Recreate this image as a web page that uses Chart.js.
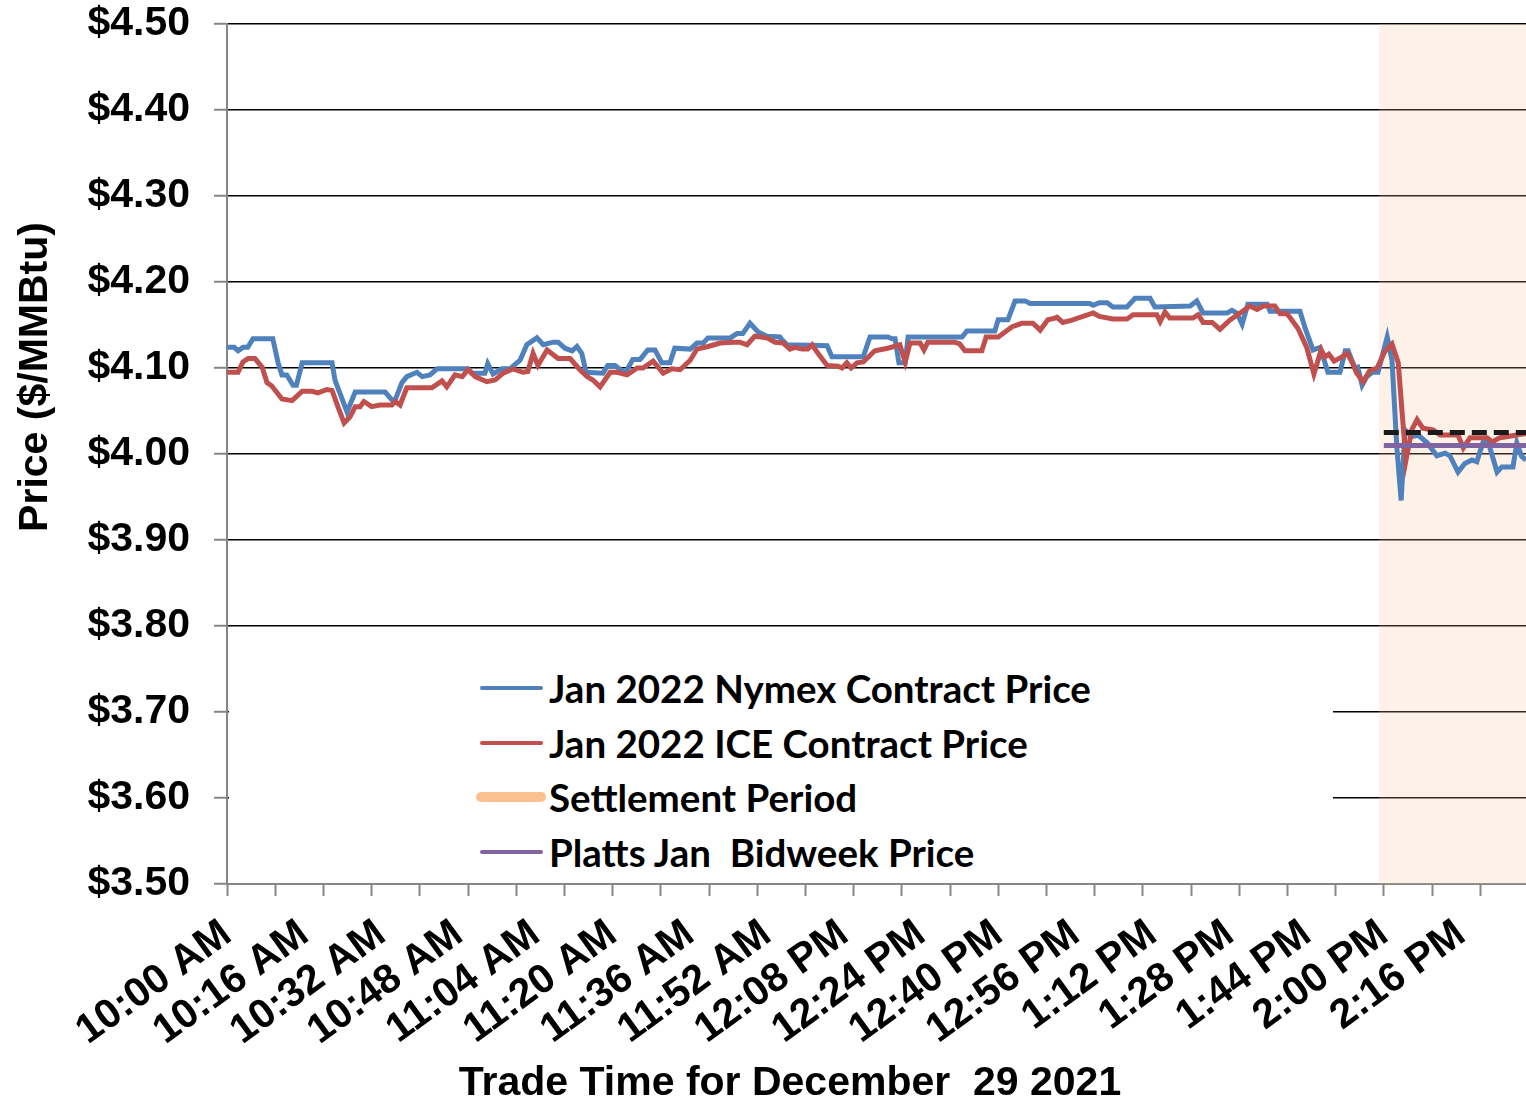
<!DOCTYPE html>
<html>
<head>
<meta charset="utf-8">
<script src="https://cdn.jsdelivr.net/npm/chart.js@4.4.1/dist/chart.umd.min.js"></script>
<style>
  html, body { margin: 0; padding: 0; background: #fff; }
  #wrap { position: relative; width: 1526px; height: 1105px; }
  #legend {
    position: absolute; left: 229px; top: 652px; width: 1104px; height: 229px;
    background: #fff;
  }
  .row {
    position: absolute; left: 0; height: 54px;
    display: flex; align-items: center;
    font-family: "Lato", "Open Sans", sans-serif; font-weight: bold; font-size: 38.5px;
    color: #000; white-space: pre;
  }
  .swatch { display: inline-block; width: 63px; height: 4px; border-radius: 2px; margin-left: 251px; margin-right: 6px; }
  .swatch.thick { width: 70px; height: 10px; border-radius: 5px; margin-left: 247px; margin-right: 3px; }
</style>
</head>
<body>
<div id="wrap">
  <canvas id="chart" width="1526" height="1105"></canvas>
  <div id="legend"></div>
</div>
<script>
// minutes after 10:00 AM, Dec 29 2021
const nymexTimes = [0, 1.5, 2.3, 3.3, 4.3, 5.4, 9.5, 10.6, 11.4, 12.4, 13.7, 14.4, 15.6, 21.8, 22.4, 24.9, 26.6, 32.8, 34.2, 34.9,
  36.3, 37.3, 39.4, 40.5, 42.1, 43.6, 50, 50.8, 53.5, 54.1, 55.2, 57, 58.7, 60.8, 62.2, 64.3, 65.6, 67.7, 68.7, 70.1,
  71.6, 72.6, 73.6, 74.5, 78, 79, 80.5, 82.6, 84.2, 85.7, 87.3, 88.8, 90.2, 91.9, 92.9, 96.1, 97.5, 98.8, 99.8, 104.4,
  105.8, 107, 108.5, 110.2, 112, 114.7, 115.1, 116.2, 124.5, 125.5, 132, 133.4, 137.1, 138, 138.6, 139.4, 140.7, 141.3, 152.5, 153.5,
  159.3, 160, 162, 163.5, 165.6, 166.6, 179, 179.7, 181, 182.6, 183.8, 186.7, 188.4, 191.5, 192.5, 199.8, 201.2, 202.5, 207.5, 208.5,
  209.5, 210.6, 211.8, 215.8, 216.4, 222.6, 223.7, 225.3, 226.8, 228.4, 230.9, 232, 232.6, 234, 234.6, 235.5, 236.5, 237.6, 238.8, 240.7,
  241.7, 242.7, 243.6, 244.4, 245.8, 247.1, 249, 251, 252.7, 253.7, 255.4, 256.8, 258.3, 259.3, 260.6, 261.6, 263.5, 264.5, 266.8, 267.6,
  268.6, 269.5];
const nymexPrices = [4.124, 4.124, 4.120, 4.124, 4.124, 4.134, 4.134, 4.106, 4.092, 4.092, 4.080, 4.080, 4.106, 4.106, 4.086, 4.049, 4.072, 4.072, 4.063, 4.063,
  4.083, 4.090, 4.095, 4.090, 4.092, 4.099, 4.099, 4.094, 4.094, 4.105, 4.093, 4.099, 4.099, 4.109, 4.127, 4.135, 4.127, 4.130, 4.130, 4.123,
  4.120, 4.125, 4.117, 4.095, 4.094, 4.103, 4.103, 4.094, 4.110, 4.110, 4.121, 4.121, 4.106, 4.106, 4.123, 4.122, 4.129, 4.129, 4.135, 4.135,
  4.140, 4.140, 4.152, 4.142, 4.137, 4.136, 4.133, 4.127, 4.126, 4.113, 4.113, 4.136, 4.136, 4.134, 4.134, 4.106, 4.106, 4.136, 4.136, 4.143,
  4.143, 4.156, 4.156, 4.178, 4.178, 4.175, 4.175, 4.173, 4.176, 4.176, 4.171, 4.171, 4.181, 4.181, 4.171, 4.172, 4.178, 4.164, 4.164, 4.167,
  4.164, 4.151, 4.174, 4.174, 4.166, 4.166, 4.146, 4.121, 4.124, 4.095, 4.095, 4.120, 4.120, 4.100, 4.101, 4.080, 4.090, 4.095, 4.095, 4.136,
  4.109, 4.008, 3.946, 4.028, 4.020, 4.022, 4.013, 3.998, 4.001, 3.998, 3.979, 3.989, 3.993, 3.991, 4.014, 4.015, 3.979, 3.985, 3.985, 4.013,
  3.997, 3.993];

const iceTimes = [0, 2.3, 3.3, 4.4, 5.8, 7.3, 8.3, 9.3, 11.4, 13.5, 15.6, 17.6, 18.9, 20.7, 21.8, 23, 24.3, 25.5, 26.6, 27.6,
  28.4, 30, 31.7, 34.2, 34.9, 35.9, 37.3, 42.5, 44.6, 45.6, 47.3, 48.8, 50, 51.5, 53.9, 55.6, 57.3, 59.3, 61.4, 62.4,
  63.5, 64.5, 66.4, 68.7, 71.2, 73.2, 74.7, 75.9, 77.4, 79.5, 80.9, 83, 85.1, 86.3, 88.4, 90.5, 92.3, 94, 96.1, 97.5,
  99.8, 102.3, 105, 106.4, 107.9, 109.5, 112, 113.7, 115.4, 116.8, 117.8, 119.3, 120.5, 121.4, 122.6, 124.5, 126.8, 127.6, 128.6, 129.5,
  130.7, 132, 134.4, 137.1, 139.6, 140.7, 141.7, 143.8, 144.6, 145.4, 151, 152, 153.1, 156.6, 157.5, 160, 162.9, 164.9, 167.2, 168.7,
  170.3, 171.8, 172.2, 173.4, 175.5, 177, 179.7, 181, 183.8, 186.7, 188, 192.9, 193.6, 194.6, 195.6, 200.4, 201.5, 202.5, 204.4, 206,
  208.1, 210.2, 212.2, 213.7, 215, 217.4, 218.5, 219.9, 220.5, 222.2, 224, 225.5, 227, 227.8, 228.6, 229.7, 231.3, 232.4, 233.4, 234.4,
  235.7, 237.1, 238.6, 240.2, 241.7, 243, 243.8, 244.6, 245.8, 246.9, 248.1, 250.2, 251.7, 255.4, 256.5, 257.9, 261.4, 262.5, 264.1, 267.6,
  269.5];
const icePrices = [4.095, 4.095, 4.107, 4.111, 4.111, 4.101, 4.083, 4.079, 4.064, 4.062, 4.073, 4.073, 4.071, 4.075, 4.074, 4.055, 4.036, 4.043, 4.055, 4.055,
  4.061, 4.055, 4.057, 4.057, 4.061, 4.057, 4.077, 4.077, 4.085, 4.078, 4.092, 4.090, 4.098, 4.090, 4.084, 4.086, 4.094, 4.099, 4.095, 4.096,
  4.117, 4.103, 4.121, 4.111, 4.111, 4.098, 4.090, 4.086, 4.078, 4.095, 4.095, 4.092, 4.100, 4.100, 4.108, 4.094, 4.099, 4.098, 4.109, 4.122,
  4.125, 4.129, 4.130, 4.130, 4.127, 4.137, 4.135, 4.130, 4.129, 4.122, 4.124, 4.122, 4.122, 4.127, 4.117, 4.103, 4.102, 4.100, 4.106, 4.100,
  4.106, 4.107, 4.120, 4.123, 4.127, 4.107, 4.129, 4.129, 4.121, 4.130, 4.130, 4.128, 4.120, 4.120, 4.136, 4.136, 4.148, 4.152, 4.152, 4.144,
  4.156, 4.158, 4.159, 4.153, 4.156, 4.159, 4.164, 4.160, 4.157, 4.157, 4.162, 4.162, 4.154, 4.165, 4.158, 4.158, 4.162, 4.153, 4.153, 4.145,
  4.156, 4.164, 4.172, 4.168, 4.172, 4.172, 4.163, 4.163, 4.159, 4.146, 4.124, 4.093, 4.121, 4.113, 4.116, 4.108, 4.113, 4.117, 4.107, 4.094,
  4.084, 4.097, 4.100, 4.119, 4.128, 4.106, 4.048, 3.993, 4.028, 4.040, 4.030, 4.028, 4.022, 4.022, 4.007, 4.019, 4.019, 4.014, 4.019, 4.022,
  4.024];

const settlementWindow = [239, 269.5];
const settlementRefTimes = [240, 269.5];
const settlementRefPrice = 4.025;
const plattsTimes = [240, 269.5];
const plattsPrice = 4.01;

const timeLabels = ["10:00 AM", "10:16 AM", "10:32 AM", "10:48 AM", "11:04 AM", "11:20 AM", "11:36 AM", "11:52 AM",
  "12:08 PM", "12:24 PM", "12:40 PM", "12:56 PM", "1:12 PM", "1:28 PM", "1:44 PM", "2:00 PM", "2:16 PM"];
const labelStep = 16;   // minutes between labels
const tickStep = 10;    // minutes between tick marks
const xMax = 269.5;

const xTitle = "Trade Time for December  29 2021";
const yTitle = "Price ($/MMBtu)";

const legendItems = [
  { text: "Jan 2022 Nymex Contract Price", color: "#4F81BD" },
  { text: "Jan 2022 ICE Contract Price", color: "#C0504D" },
  { text: "Settlement Period", color: "#FAC090", thick: true },
  { text: "Platts Jan  Bidweek Price", color: "#8064A2" },
];

const fontFamily = "'Liberation Sans', Arial, sans-serif";
const axisFont = { family: fontFamily, size: 41, weight: "bold" };
const gray = "#868686";

const pairs = (xs, ys) => xs.map((x, i) => ({ x, y: ys[i] }));

// axis titles sit off-centre in the original, so place them by hand
const titlesPlugin = {
  id: "titles",
  afterDraw(chart) {
    const { ctx } = chart;
    ctx.save();
    ctx.font = "bold 41px " + fontFamily;
    ctx.fillStyle = "#000";
    ctx.textAlign = "center";
    ctx.textBaseline = "middle";
    ctx.fillText(xTitle, 790, 1084);
    ctx.translate(36, 377);
    ctx.rotate(-Math.PI / 2);
    ctx.fillText(yTitle, 0, 0);
    ctx.restore();
  },
};

new Chart(document.getElementById("chart"), {
  type: "line",
  data: {
    datasets: [
      {
        label: "Settlement Period",
        data: settlementWindow.map((x) => ({ x, y: 4.5 })),
        borderWidth: 0,
        borderColor: "rgba(0,0,0,0)",
        backgroundColor: "rgba(250,192,144,0.22)",
        fill: "start",
        pointRadius: 0,
        order: 5,
      },
      {
        label: "Jan 2022 Nymex Contract Price",
        data: pairs(nymexTimes, nymexPrices),
        borderColor: "#4F81BD",
        borderWidth: 5,
        pointRadius: 0,
        tension: 0,
        order: 3,
      },
      {
        label: "Jan 2022 ICE Contract Price",
        data: pairs(iceTimes, icePrices),
        borderColor: "#C0504D",
        borderWidth: 5,
        pointRadius: 0,
        tension: 0,
        order: 2,
      },
      {
        label: "Settlement",
        data: settlementRefTimes.map((x) => ({ x, y: settlementRefPrice })),
        borderColor: "#1a1a1a",
        borderWidth: 5,
        borderDash: [15, 7],
        pointRadius: 0,
        order: 1,
      },
      {
        label: "Platts Jan  Bidweek Price",
        data: plattsTimes.map((x) => ({ x, y: plattsPrice })),
        borderColor: "#8064A2",
        borderWidth: 5,
        pointRadius: 0,
        order: 0,
      },
    ],
  },
  options: {
    responsive: false,
    animation: false,
    devicePixelRatio: 1,
    layout: { padding: 0 },
    plugins: { legend: { display: false }, tooltip: { enabled: false } },
    scales: {
      x: {
        type: "linear",
        min: 0,
        max: xMax,
        afterBuildTicks(scale) {
          const vals = new Set();
          for (let v = 0; v <= xMax; v += tickStep) vals.add(v);
          timeLabels.forEach((_, i) => vals.add(i * labelStep));
          scale.ticks = [...vals].sort((a, b) => a - b).map((value) => ({ value }));
        },
        afterFit(scale) { scale.height = 221; },
        ticks: {
          autoSkip: false,
          minRotation: 36,
          maxRotation: 36,
          padding: 14,
          color: "#000",
          font: axisFont,
          callback: (v) => (v % labelStep === 0 ? timeLabels[v / labelStep] || "" : ""),
        },
        grid: {
          drawOnChartArea: false,
          drawTicks: true,
          tickLength: 12,
          tickWidth: 2,
          tickColor: (c) => (c.tick && c.tick.value % tickStep === 0 ? gray : "rgba(0,0,0,0)"),
        },
        border: { color: gray, width: 2 },
      },
      y: {
        min: 3.5,
        max: 4.5,
        afterFit(scale) {
          scale.width = 227;
          scale.paddingTop = 24;
          scale.paddingBottom = 0;
        },
        ticks: {
          stepSize: 0.1,
          padding: 24,
          color: "#000",
          font: axisFont,
          callback: (v) => "$" + Number(v).toFixed(2),
        },
        grid: {
          color: (c) => (c.tick && Math.abs(c.tick.value - 3.5) < 1e-6 ? gray : "#000"),
          lineWidth: 1.5,
          tickLength: 13,
          tickWidth: 2,
          tickColor: gray,
        },
        border: { color: gray, width: 2 },
      },
    },
  },
  plugins: [titlesPlugin],
});

// legend sits inside the plot like the original, covering the low gridlines
const legendBox = document.getElementById("legend");
legendItems.forEach((item, i) => {
  const row = document.createElement("div");
  row.className = "row";
  row.style.top = (36 + i * 54.7 - 27) + "px";
  const sw = document.createElement("span");
  sw.className = "swatch" + (item.thick ? " thick" : "");
  sw.style.background = item.color;
  row.appendChild(sw);
  row.appendChild(document.createTextNode(item.text));
  legendBox.appendChild(row);
});
</script>
</body>
</html>
